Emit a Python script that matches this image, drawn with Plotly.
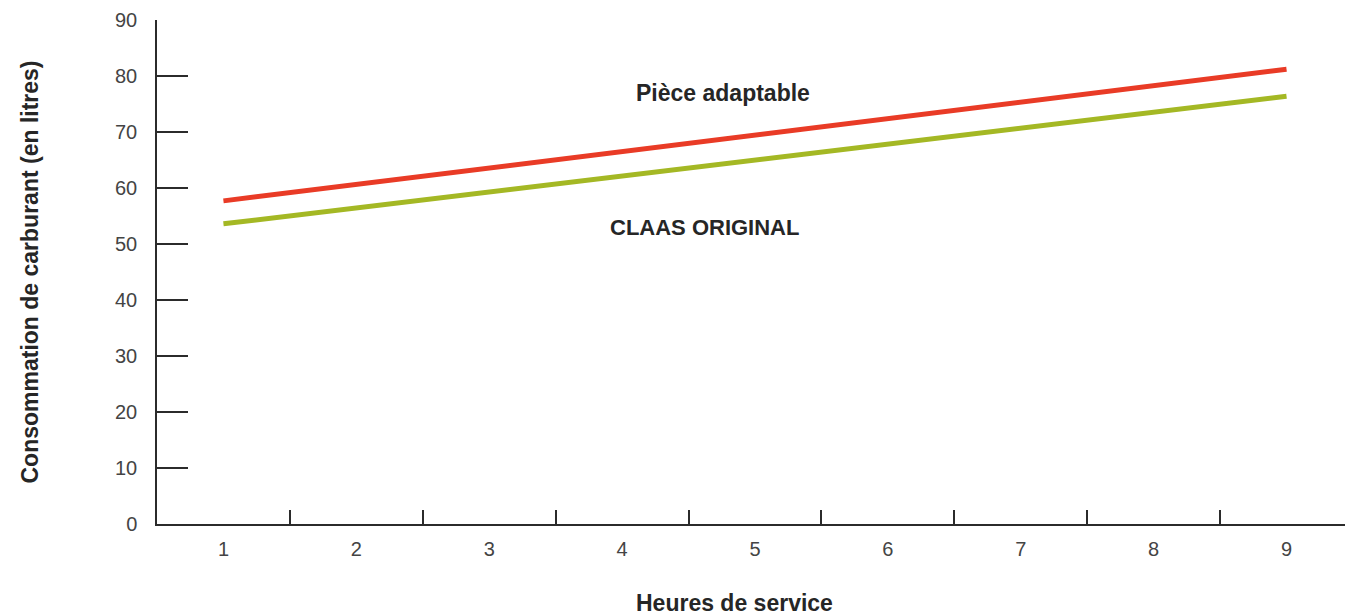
import plotly.graph_objects as go

# Data
hours = [1, 9]
piece_adaptable = [57.7, 81.2]
claas_original = [53.6, 76.4]
hour_ticks = [1, 2, 3, 4, 5, 6, 7, 8, 9]
hour_boundaries = [1.5, 2.5, 3.5, 4.5, 5.5, 6.5, 7.5, 8.5]
y_ticks = [0, 10, 20, 30, 40, 50, 60, 70, 80, 90]

RED = "#E93B26"
GREEN = "#A4B824"
AXIS = "#2b2b2b"
FONT = "Liberation Sans, Arial, sans-serif"
TITLE_FONT = dict(family=FONT, size=23, color="#262626", weight="bold")

fig = go.Figure()
fig.add_trace(go.Scatter(x=hours, y=claas_original, mode="lines",
                         line=dict(color=GREEN, width=5), name="CLAAS ORIGINAL",
                         showlegend=False))
fig.add_trace(go.Scatter(x=hours, y=piece_adaptable, mode="lines",
                         line=dict(color=RED, width=5), name="Pièce adaptable",
                         showlegend=False))

fig.add_annotation(x=4.76, y=77, text="Pièce adaptable", showarrow=False,
                   font=dict(family=FONT, size=23, color="#262626", weight="bold"))
fig.add_annotation(x=4.62, y=52.9, text="CLAAS ORIGINAL", showarrow=False,
                   font=dict(family=FONT, size=22, color="#262626", weight="bold"))
# x-axis title
fig.add_annotation(xref="paper", yref="paper", x=0.4865, y=-0.157,
                   xanchor="center", yanchor="middle",
                   text="Heures de service", showarrow=False, font=TITLE_FONT)

fig.update_layout(
    width=1345, height=615,
    margin=dict(l=157, r=0, t=20, b=91),
    paper_bgcolor="white", plot_bgcolor="white",
    font=dict(family=FONT),
    hovermode=False,
    xaxis=dict(
        range=[0.5, 9.44],
        tickmode="array", tickvals=hour_ticks, ticktext=[str(h) for h in hour_ticks],
        ticks="", showgrid=False, zeroline=False,
        showline=True, linecolor=AXIS, linewidth=1.5,
        tickfont=dict(family=FONT, size=20, color="#444444"),
        ticklabelstandoff=6,
        minor=dict(tickmode="array", tickvals=hour_boundaries, ticks="inside",
                   ticklen=14, tickwidth=1.5, tickcolor=AXIS, showgrid=False),
    ),
    yaxis=dict(
        range=[0, 90],
        tickmode="array", tickvals=y_ticks,
        ticks="inside", ticklen=31, tickwidth=1.5, tickcolor=AXIS,
        showgrid=False, zeroline=False,
        showline=True, linecolor=AXIS, linewidth=1.5,
        tickfont=dict(family=FONT, size=20, color="#444444"),
        ticklabelstandoff=14,
        title=dict(text="Consommation de carburant (en litres)", standoff=70,
                   font=TITLE_FONT),
    ),
)

fig.write_html("out.html",
               config={"displayModeBar": False},
               post_script="document.body.style.margin='0';document.body.style.overflow='hidden';")
